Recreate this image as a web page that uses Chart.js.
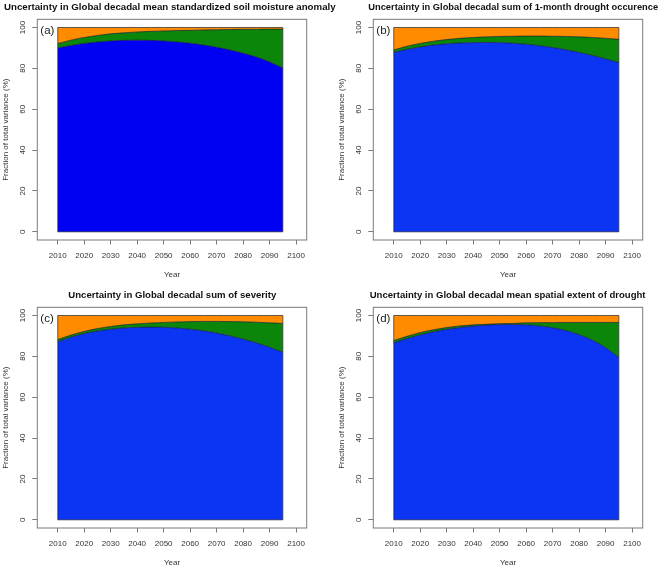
<!DOCTYPE html>
<html><head><meta charset="utf-8">
<script src="https://cdn.jsdelivr.net/npm/chart.js@4.4.1/dist/chart.umd.min.js"></script>
<style>
html,body{margin:0;padding:0;background:#fff;overflow:hidden;width:658px;height:566px}
canvas{position:absolute;left:0;top:0;width:658px;height:566px}
</style></head><body>
<canvas id="c0" width="658" height="566"></canvas><canvas id="c1" width="658" height="566"></canvas><canvas id="c2" width="658" height="566"></canvas><canvas id="c3" width="658" height="566"></canvas>
<script>
// ---- data ----
const years = [2010,2015,2020,2025,2030,2035,2040,2045,2050,2055,2060,2065,2070,2075,2080,2085,2090,2095];
const xTicks = [2010,2020,2030,2040,2050,2060,2070,2080,2090,2100];
const yTicks = [0,20,40,60,80,100];
const titles = [
  'Uncertainty in Global decadal mean standardized soil moisture anomaly',
  'Uncertainty in Global decadal sum of 1-month drought occurence',
  'Uncertainty in Global decadal sum of severity',
  'Uncertainty in Global decadal mean spatial extent of drought'
];
const letters = ['(a)','(b)','(c)','(d)'];
const xTitle = 'Year';
const yTitle = 'Fraction of total variance (%)';

// (a) soil moisture anomaly
const modelA    = [90.0,91.2,92.2,92.9,93.4,93.7,93.8,93.7,93.4,92.9,92.3,91.4,90.3,89.0,87.4,85.5,83.1,80.2];
const scenarioA = [2.1,2.6,2.9,3.2,3.5,3.7,4.0,4.4,4.9,5.6,6.3,7.4,8.6,10.0,11.7,13.6,16.1,19.0];
const internalA = [7.9,6.2,4.9,3.9,3.1,2.6,2.2,1.9,1.7,1.5,1.4,1.2,1.1,1.0,0.9,0.9,0.8,0.8];
// (b) 1-month drought occurence
const modelB    = [87.8,89.3,90.5,91.4,92.0,92.4,92.6,92.7,92.6,92.3,91.8,91.1,90.2,89.1,87.8,86.3,84.6,82.8];
const scenarioB = [1.2,1.5,1.7,1.9,2.1,2.3,2.5,2.7,3.0,3.4,4.0,4.7,5.5,6.5,7.6,8.8,10.1,11.4];
const internalB = [11.0,9.2,7.8,6.7,5.9,5.3,4.9,4.6,4.4,4.3,4.2,4.2,4.3,4.4,4.6,4.9,5.3,5.8];
// (c) severity
const modelC    = [87.2,89.4,91.1,92.4,93.3,93.9,94.2,94.3,94.2,93.9,93.3,92.5,91.4,90.0,88.4,86.6,84.4,82.0];
const scenarioC = [1.0,1.0,1.1,1.2,1.3,1.5,1.7,2.0,2.4,2.9,3.7,4.6,5.7,7.0,8.5,10.1,12.0,14.1];
const internalC = [11.8,9.6,7.8,6.4,5.4,4.6,4.1,3.7,3.4,3.2,3.0,2.9,2.9,3.0,3.1,3.3,3.6,3.9];
// (d) spatial extent
const modelD    = [86.6,88.7,90.5,92.0,93.2,94.1,94.8,95.3,95.6,95.6,95.4,94.9,94.0,92.6,90.6,87.9,84.2,79.4];
const scenarioD = [1.1,1.1,1.1,1.0,0.9,0.8,0.6,0.4,0.4,0.5,1.0,1.6,2.5,4.0,6.0,8.7,12.4,17.2];
const internalD = [12.3,10.2,8.4,7.0,5.9,5.1,4.6,4.3,4.0,3.9,3.6,3.5,3.5,3.4,3.4,3.4,3.4,3.4];

const panelData = [
  [modelA, scenarioA, internalA],
  [modelB, scenarioB, internalB],
  [modelC, scenarioC, internalC],
  [modelD, scenarioD, internalD]
];

// ---- layout / style ----
const W = 658, H = 566;
const boxes = [
  {L:37.3, R:306.7, T:19.3, B:240},
  {L:373.3, R:642.7, T:19.3, B:240},
  {L:37.3, R:306.7, T:307.3, B:528},
  {L:373.3, R:642.7, T:307.3, B:528}
];
const titleX = [4, 368.3, 68.3, 369.7];
const titleSize = [9.7, 9.3, 9.6, 9.55];
const blues = ['#0000f2','#0b35f2','#0b35f2','#0b35f2'];
const green = '#0b860b';
const orange = '#ff8c00';
const edge = 'rgba(15,15,35,0.8)';
const FONT = '"Liberation Sans", Arial, Helvetica, sans-serif';

function decor(i){
  return {
    id: 'decor'+i,
    afterDatasetsDraw(chart){
      const ctx = chart.ctx, xs = chart.scales.x, ys = chart.scales.y;
      ctx.save();
      ctx.strokeStyle = edge; ctx.lineWidth = 0.8;
      const x0 = xs.getPixelForValue(years[0]), x1 = xs.getPixelForValue(years[years.length-1]);
      const y0 = ys.getPixelForValue(0), y1 = ys.getPixelForValue(100);
      ctx.beginPath();
      ctx.moveTo(x0, y1); ctx.lineTo(x0, y0); ctx.lineTo(x1, y0); ctx.lineTo(x1, y1);
      ctx.stroke();
      ctx.restore();
    },
    afterDraw(chart){
      const ctx = chart.ctx, xs = chart.scales.x, ys = chart.scales.y, b = boxes[i];
      ctx.save();
      ctx.strokeStyle = '#7a7a7a'; ctx.lineWidth = 1;
      ctx.strokeRect(b.L, b.T, b.R - b.L, b.B - b.T);
      ctx.fillStyle = '#111';
      ctx.font = 'bold ' + titleSize[i] + 'px ' + FONT;
      ctx.textAlign = 'left'; ctx.textBaseline = 'alphabetic';
      ctx.fillText(titles[i], titleX[i], b.T - 9.8);
      ctx.font = '11.5px ' + FONT;
      ctx.fillStyle = '#222';
      ctx.fillText(letters[i], b.L + 3, b.T + 15);
      ctx.font = '8px ' + FONT; ctx.fillStyle = '#333';
      ctx.textAlign = 'center';
      xTicks.forEach(v => ctx.fillText(String(v), xs.getPixelForValue(v), b.B + 18.3));
      ctx.fillText(xTitle, (b.L + b.R) / 2, b.B + 37.3);
      yTicks.forEach(v => {
        ctx.save();
        ctx.translate(b.L - 12.3, ys.getPixelForValue(v));
        ctx.rotate(-Math.PI / 2);
        ctx.fillText(String(v), 0, 0);
        ctx.restore();
      });
      ctx.save();
      ctx.translate(b.L - 29.8, (b.T + b.B) / 2);
      ctx.rotate(-Math.PI / 2);
      ctx.fillText(yTitle, 0, 0);
      ctx.restore();
      ctx.restore();
    }
  };
}

panelData.forEach((series, i) => {
  const b = boxes[i];
  const cv = document.getElementById('c' + i);
  const mk = (arr, color, fill) => ({
    data: years.map((x, k) => ({x: x, y: arr[k]})),
    backgroundColor: color,
    borderColor: edge,
    borderWidth: 0.8,
    fill: fill,
    pointRadius: 0,
    cubicInterpolationMode: 'monotone'
  });
  new Chart(cv, {
    type: 'line',
    data: {
      datasets: [
        mk(series[0], blues[i], 'origin'),
        mk(series[1], green, '-1'),
        mk(series[2], orange, '-1')
      ]
    },
    options: {
      responsive: false,
      maintainAspectRatio: false,
      animation: false,
      devicePixelRatio: 1,
      layout: {padding: {left: b.L, top: b.T, right: W - b.R, bottom: H - b.B}},
      plugins: {legend: {display: false}, tooltip: {enabled: false}, title: {display: false}},
      scales: {
        x: {
          type: 'linear', min: 2002.3, max: 2104,
          afterBuildTicks: s => { s.ticks = xTicks.map(v => ({value: v})); },
          afterFit: s => { s.height = 0; },
          ticks: {display: false},
          grid: {drawOnChartArea: false, drawTicks: true, tickLength: 4.5, color: '#7a7a7a', lineWidth: 1},
          border: {display: false}
        },
        y: {
          type: 'linear', stacked: true, min: -4, max: 104,
          afterBuildTicks: s => { s.ticks = yTicks.map(v => ({value: v})); },
          afterFit: s => { s.width = 0; },
          ticks: {display: false},
          grid: {drawOnChartArea: false, drawTicks: true, tickLength: 5, color: '#7a7a7a', lineWidth: 1},
          border: {display: false}
        }
      }
    },
    plugins: [decor(i)]
  });
});
</script>
</body></html>
